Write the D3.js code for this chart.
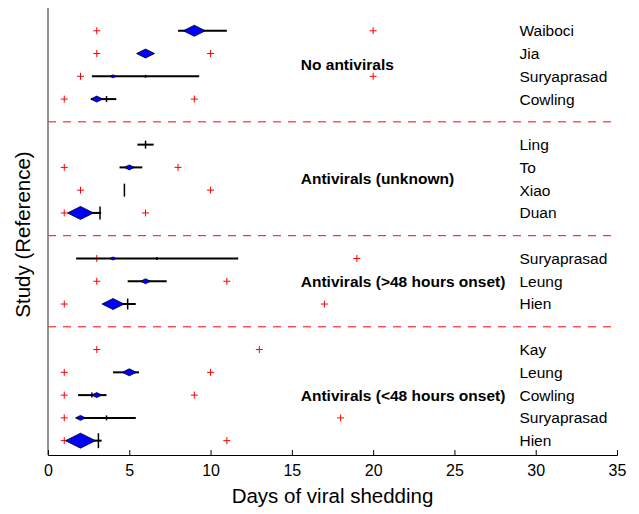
<!DOCTYPE html>
<html>
<head>
<meta charset="utf-8">
<script src="https://cdn.jsdelivr.net/npm/d3@7"></script>
<style>
  body { margin: 0; background: #fff; }
  svg { display: block; font-family: "Liberation Sans", Arial, Helvetica, sans-serif; }
</style>
</head>
<body>
<div id="frame_div"></div>
<script>
// frame
const FRAME_HEIGHT = 514;
const FRAME_WIDTH = 639;
const MARGINS = {left: 48, right: 22, top: 8, bottom: 59};
const VIS_HEIGHT = FRAME_HEIGHT - MARGINS.top - MARGINS.bottom;
const VIS_WIDTH = FRAME_WIDTH - MARGINS.left - MARGINS.right;

// data, one entry per study row (top to bottom)
const studies = ["Waiboci", "Jia", "Suryaprasad", "Cowling",
                 "Ling", "To", "Xiao", "Duan",
                 "Suryaprasad", "Leung", "Hien",
                 "Kay", "Leung", "Cowling", "Suryaprasad", "Hien"];
const groups = ["No antivirals", "Antivirals (unknown)",
                "Antivirals (>48 hours onset)", "Antivirals (<48 hours onset)"];
const groupOf = [0, 0, 0, 0, 1, 1, 1, 1, 2, 2, 2, 3, 3, 3, 3, 3];
// red crosses: min / max
const rangeLo = [3, 3, 2, 1, null, 1, 2, 1, 3, 3, 1, 3, 1, 1, 1, 1];
const rangeHi = [20, 10, 20, 9, null, 8, 10, 6, 19, 11, 17, 13, 10, 9, 18, 11];
// black bars
const ciLo = [8.0, null, 2.7, 2.65, 5.5, 4.4, null, 2.0, 1.73, 4.9, 4.0, null, 4.0, 1.85, 1.75, 2.0];
const ciHi = [11.0, null, 9.3, 4.2, 6.5, 5.8, null, 3.27, 11.7, 7.3, 5.4, null, 5.6, 3.6, 5.4, 3.3];
// black vertical ticks
const medians = [null, null, 6.0, 3.6, 6.0, null, 4.7, 3.2, 6.7, null, 4.9, null, null, 2.7, 3.6, 3.1];
// blue diamonds
const means = [9.0, 6.0, 4.0, 3.0, null, 5.0, null, 2.0, 4.0, 6.0, 4.0, null, 5.0, 3.0, 2.0, 2.0];
const weights = [54, 36, 4, 16, 28, 11, 75, 75, 4, 11, 54, 0, 22, 11, 11, 100];
const xTicks = [0, 5, 10, 15, 20, 25, 30, 35];

// each group is followed by an empty slot holding the dashed separator
const slots = studies.map((s, i) => i + 1 + groupOf[i]);
const separators = groups.slice(1).map((g, j) => slots[groupOf.indexOf(j + 1)] - 1);

const rows = studies.map((s, i) => ({
  name: s, slot: slots[i], lo: rangeLo[i], hi: rangeHi[i],
  ciLo: ciLo[i], ciHi: ciHi[i], med: medians[i], mean: means[i], w: weights[i]
}));

const FRAME = d3.select("#frame_div")
  .append("svg")
    .attr("width", FRAME_WIDTH)
    .attr("height", FRAME_HEIGHT);

const X_SCALE = d3.scaleLinear().domain([0, 35]).range([0, VIS_WIDTH]);
const Y_SCALE = d3.scaleLinear().domain([0, 19.63]).range([0, VIS_HEIGHT]);
const H_SCALE = d3.scaleSqrt().domain([0, 100]).range([0, 7.5]);

const G = FRAME.append("g")
  .attr("transform", `translate(${MARGINS.left},${MARGINS.top})`);

// separators
G.selectAll(".sep")
  .data(separators)
  .enter()
  .append("line")
    .attr("x1", 0)
    .attr("x2", VIS_WIDTH)
    .attr("y1", d => Y_SCALE(d))
    .attr("y2", d => Y_SCALE(d))
    .attr("stroke", "#ff0000")
    .attr("stroke-width", 1)
    .attr("stroke-dasharray", "8,7");

// red crosses
const crosses = [];
rows.forEach(r => {
  if (r.lo !== null) crosses.push({v: r.lo, slot: r.slot});
  if (r.hi !== null) crosses.push({v: r.hi, slot: r.slot});
});
G.selectAll(".cross")
  .data(crosses)
  .enter()
  .append("path")
    .attr("transform", d => `translate(${X_SCALE(d.v)},${Y_SCALE(d.slot)})`)
    .attr("d", "M-3.5,0H3.5M0,-3.5V3.5")
    .attr("stroke", "#ff0000")
    .attr("stroke-width", 1)
    .attr("fill", "none");

// black bars
G.selectAll(".ci")
  .data(rows.filter(r => r.ciLo !== null))
  .enter()
  .append("line")
    .attr("x1", d => X_SCALE(d.ciLo))
    .attr("x2", d => X_SCALE(d.ciHi))
    .attr("y1", d => Y_SCALE(d.slot))
    .attr("y2", d => Y_SCALE(d.slot))
    .attr("stroke", "#000")
    .attr("stroke-width", 2);

// diamonds
G.selectAll(".diamond")
  .data(rows.filter(r => r.mean !== null))
  .enter()
  .append("path")
    .attr("transform", d => `translate(${X_SCALE(d.mean)},${Y_SCALE(d.slot)})`)
    .attr("d", d => {
      const h = H_SCALE(d.w), w = 2 * h;
      return `M${-w},0L0,${-h}L${w},0L0,${h}Z`;
    })
    .attr("fill", "#0000ff")
    .attr("stroke", "#000")
    .attr("stroke-width", 0.8);

// median ticks
G.selectAll(".med")
  .data(rows.filter(r => r.med !== null))
  .enter()
  .append("line")
    .attr("x1", d => X_SCALE(d.med))
    .attr("x2", d => X_SCALE(d.med))
    .attr("y1", d => Y_SCALE(d.slot) - Math.max(H_SCALE(d.w), 1.5))
    .attr("y2", d => Y_SCALE(d.slot) + Math.max(H_SCALE(d.w), 1.5))
    .attr("stroke", "#000")
    .attr("stroke-width", 1.5);

// study names
G.selectAll(".name")
  .data(rows)
  .enter()
  .append("text")
    .attr("x", X_SCALE(29))
    .attr("y", d => Y_SCALE(d.slot))
    .attr("dy", "0.35em")
    .attr("font-size", "15.5px")
    .text(d => d.name);

// group names
G.selectAll(".group")
  .data(groups)
  .enter()
  .append("text")
    .attr("x", X_SCALE(15.55))
    .attr("y", (g, j) => Y_SCALE(d3.mean(slots.filter((s, i) => groupOf[i] === j))))
    .attr("dy", "0.35em")
    .attr("font-size", "15.5px")
    .attr("font-weight", "bold")
    .text(d => d);

// axes
G.append("line")
  .attr("x1", 0).attr("x2", 0)
  .attr("y1", 0).attr("y2", VIS_HEIGHT)
  .attr("stroke", "#777")
  .attr("stroke-width", 1.6);

const xAxis = G.append("g")
  .attr("transform", `translate(0,${VIS_HEIGHT})`)
  .call(d3.axisBottom(X_SCALE)
    .tickValues(xTicks)
    .tickSizeInner(-5)
    .tickSizeOuter(-5)
    .tickPadding(10));
xAxis.selectAll("text")
  .attr("font-size", "16px")
  .attr("font-family", "Liberation Sans, Arial, sans-serif")
  .attr("fill", "#000");

FRAME.append("text")
  .attr("x", MARGINS.left + X_SCALE(17.5))
  .attr("y", 503)
  .attr("text-anchor", "middle")
  .attr("font-size", "20.5px")
  .text("Days of viral shedding");

FRAME.append("text")
  .attr("transform", `translate(30,${MARGINS.top + VIS_HEIGHT / 2 + 3}) rotate(-90)`)
  .attr("text-anchor", "middle")
  .attr("font-size", "20.5px")
  .text("Study (Reference)");
</script>
</body>
</html>
